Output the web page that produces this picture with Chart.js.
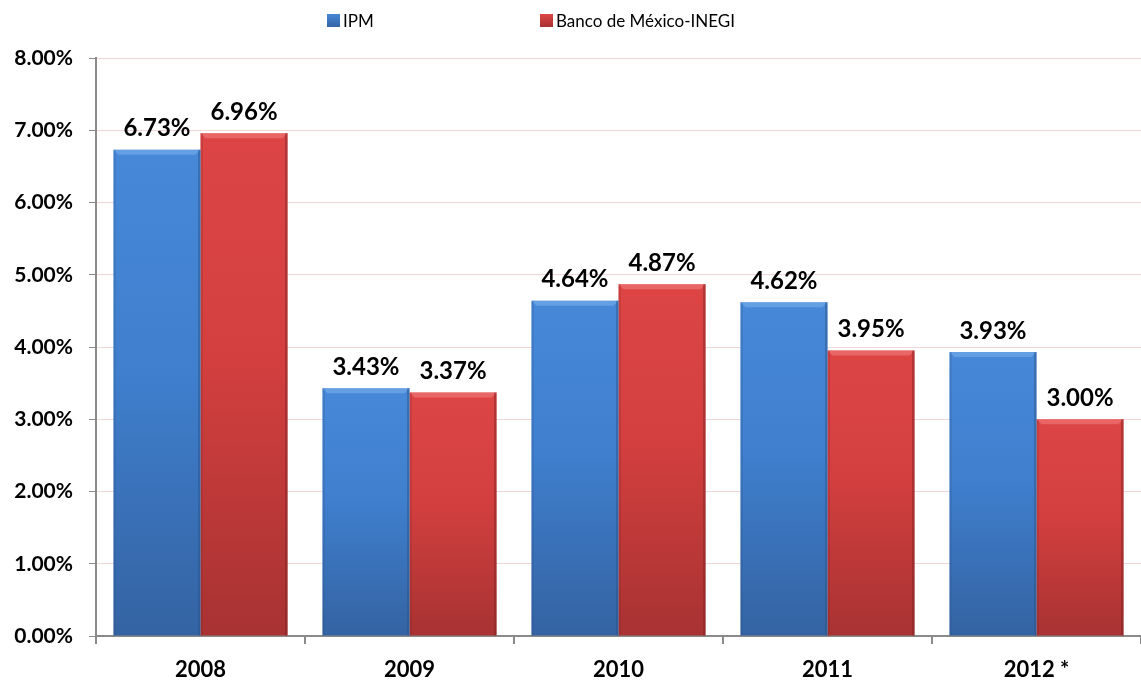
<!DOCTYPE html>
<html>
<head>
<meta charset="utf-8">
<script src="https://cdn.jsdelivr.net/npm/chart.js@4.4.1/dist/chart.umd.min.js"></script>
<style>
  html, body { margin: 0; padding: 0; background: #fff; }
  #wrap { position: relative; width: 1141px; height: 688px; }
  #legend { position: absolute; top: 10px; left: 0; width: 1141px; height: 22px; font: 17px Lato, "Open Sans", sans-serif; color: #000; }
  #legend span.item { position: absolute; top: 0; display: flex; align-items: center; white-space: nowrap; }
  #legend i { display: inline-block; width: 13px; height: 13px; margin-right: 3px; }
</style>
</head>
<body>
<div id="wrap">
  <canvas id="chart" width="1141" height="688"></canvas>
  <div id="legend"></div>
</div>
<script>
// datos
const anios = ["2008", "2009", "2010", "2011", "2012 *"];
const ipm = [6.73, 3.43, 4.64, 4.62, 3.93];
const banxico = [6.96, 3.37, 4.87, 3.95, 3.0];
const series = ["IPM", "Banco de México-INEGI"];

const colores = [
  { top: "#4788d8", mid: "#3f7fce", bot: "#3463a2", edge: "#2b5288", hi: "rgba(120,175,235,0.6)" },
  { top: "#dd4545", mid: "#d33f3f", bot: "#a83232", edge: "#7e2222", hi: "rgba(240,125,125,0.6)" },
];

function relleno(i) {
  return (ctx) => {
    const chart = ctx.chart;
    const area = chart.chartArea;
    const c = colores[i];
    if (!area || ctx.raw == null) return c.mid;
    const y = chart.scales.y.getPixelForValue(ctx.raw);
    const g = chart.ctx.createLinearGradient(0, y, 0, area.bottom);
    g.addColorStop(0, c.top);
    g.addColorStop(0.45, c.mid);
    g.addColorStop(1, c.bot);
    return g;
  };
}

// biselado estilo Excel
const bisel = {
  id: "bisel",
  afterDatasetsDraw(chart) {
    const ctx = chart.ctx;
    chart.data.datasets.forEach((ds, i) => {
      const c = colores[i];
      chart.getDatasetMeta(i).data.forEach((el) => {
        const { x, y, width, base } = el.getProps(["x", "y", "width", "base"], true);
        const l = x - width / 2, r = x + width / 2, b = 5;
        ctx.save();
        ctx.fillStyle = c.hi;
        ctx.beginPath();
        ctx.moveTo(l, y); ctx.lineTo(r, y); ctx.lineTo(r - b, y + b); ctx.lineTo(l + b, y + b);
        ctx.closePath(); ctx.fill();
        ctx.fillStyle = c.edge;
        ctx.globalAlpha = 0.45;
        ctx.fillRect(r - 2.5, y, 2.5, base - y);
        ctx.globalAlpha = 0.2;
        ctx.fillRect(l, y, 2.5, base - y);
        ctx.restore();
      });
    });
  },
};

const etiquetas = {
  id: "etiquetas",
  afterDatasetsDraw(chart) {
    const ctx = chart.ctx;
    ctx.save();
    ctx.font = "bold 24px Lato, 'Open Sans', sans-serif";
    ctx.fillStyle = "#000";
    ctx.textAlign = "center";
    ctx.textBaseline = "bottom";
    chart.data.datasets.forEach((ds, i) => {
      chart.getDatasetMeta(i).data.forEach((el, j) => {
        ctx.fillText(ds.data[j].toFixed(2) + "%", el.x, el.y - 9);
      });
    });
    ctx.restore();
  },
};

const chart = new Chart(document.getElementById("chart").getContext("2d"), {
  type: "bar",
  data: {
    labels: anios,
    datasets: [
      { label: series[0], data: ipm, backgroundColor: relleno(0), borderWidth: 0 },
      { label: series[1], data: banxico, backgroundColor: relleno(1), borderWidth: 0 },
    ],
  },
  options: {
    responsive: false,
    animation: false,
    layout: { padding: { top: 58, right: 0, left: 0, bottom: 0 } },
    plugins: { legend: { display: false }, tooltip: { enabled: false } },
    datasets: { bar: { categoryPercentage: 0.833, barPercentage: 1 } },
    scales: {
      x: {
        offset: true,
        grid: { display: true, drawOnChartArea: false, drawTicks: true, tickLength: 8, tickColor: "#8a8a8a", lineWidth: 2, offset: true },
        border: { color: "#8a8a8a", width: 2 },
        ticks: { color: "#000", font: { family: "Lato, 'Open Sans', sans-serif", size: 22, weight: "bold" }, padding: 13 },
        afterFit(s) { s.height = 52; },
      },
      y: {
        min: 0,
        max: 8,
        ticks: { stepSize: 1, color: "#000", font: { family: "Lato, 'Open Sans', sans-serif", size: 21, weight: "bold" }, padding: 16, callback: (v) => v.toFixed(2) + "%" },
        grid: { color: "#f0d6d6", lineWidth: 1, tickLength: 7, tickColor: "#8a8a8a" },
        border: { color: "#8a8a8a", width: 2 },
        afterFit(s) { s.width = 96; },
      },
    },
  },
  plugins: [bisel, etiquetas],
});

// leyenda
const leg = document.getElementById("legend");
const posLeg = [327, 540];
series.forEach((s, i) => {
  const c = colores[i];
  const it = document.createElement("span");
  it.className = "item";
  it.style.left = posLeg[i] + "px";
  it.innerHTML = `<i style="background:linear-gradient(${c.top},${c.bot})"></i>${s}`;
  leg.appendChild(it);
});
</script>
</body>
</html>
